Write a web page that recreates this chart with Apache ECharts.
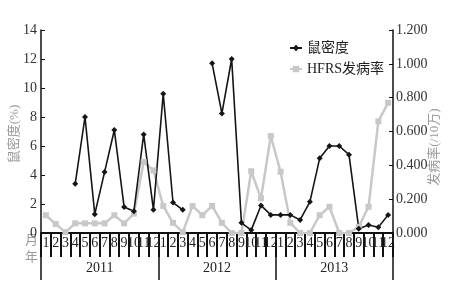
<!DOCTYPE html>
<html>
<head>
<meta charset="utf-8">
<script src="https://cdn.jsdelivr.net/npm/echarts@6/dist/echarts.min.js"></script>
<style>
  html, body { margin: 0; padding: 0; background: #fff; }
  #main { width: 449px; height: 293px; }
</style>
</head>
<body>
<div id="main"></div>
<script>
// months for 2011-2013
const months = [];
for (let y = 0; y < 3; y++) for (let m = 1; m <= 12; m++) months.push(String(m));
const years = ["2011", "2012", "2013"];

// 鼠密度 (%)
const ratDensity = [
  null, null, null, 3.4, 8.0, 1.3, 4.2, 7.1, 1.8, 1.5, 6.8, 1.6,
  9.6, 2.1, 1.6, null, null, 11.7, 8.25, 12.0, 0.7, 0.2, 1.9, 1.25,
  1.25, 1.25, 0.9, 2.15, 5.15, 6.0, 6.0, 5.4, 0.3, 0.55, 0.4, 1.25
];
// HFRS发病率 (/10万)
const hfrsRate = [
  0.105, 0.053, 0.005, 0.057, 0.057, 0.057, 0.057, 0.105, 0.057, 0.115, 0.42, 0.37,
  0.16, 0.06, 0.005, 0.16, 0.105, 0.16, 0.06, 0.0, 0.0, 0.365, 0.205, 0.573,
  0.362, 0.06, 0.0, 0.0, 0.105, 0.155, 0.0, 0.0, 0.037, 0.155, 0.66, 0.77
];

const serif = "Liberation Serif, Noto Sans CJK SC, serif";
const nameStyle = { font: "13px " + serif, fill: "#999", align: "center", verticalAlign: "middle" };
const chart = echarts.init(document.getElementById("main"));
chart.setOption({
  animation: false,
  grid: { left: 41, right: 56, top: 30, bottom: 60, outerBoundsMode: "none", containLabel: false },
  legend: {
    orient: "vertical",
    left: 284,
    top: 36,
    itemGap: 7,
    itemWidth: 12,
    itemHeight: 8,
    textStyle: { fontFamily: serif, fontSize: 14, color: "#222" },
    data: ["鼠密度", "HFRS发病率"]
  },
  xAxis: [
    {
      type: "category",
      data: months,
      axisLine: { lineStyle: { color: "#111", width: 2 } },
      axisTick: { show: true, interval: 0, length: 24, lineStyle: { color: "#111", width: 2 } },
      axisLabel: { interval: 0, margin: 3, fontFamily: serif, fontSize: 14, color: "#222" }
    },
    {
      type: "category",
      data: years,
      position: "bottom",
      axisLine: { show: false },
      axisTick: { show: true, interval: 0, length: 47, lineStyle: { color: "#111", width: 1.5 } },
      axisLabel: { interval: 0, margin: 28, fontFamily: serif, fontSize: 14, color: "#222" }
    }
  ],
  yAxis: [
    {
      type: "value",
      min: 0, max: 14, interval: 2,
      splitLine: { show: false },
      axisLine: { show: true, lineStyle: { color: "#111", width: 1.5 } },
      axisTick: { show: true, inside: true, length: 4, lineStyle: { color: "#111" } },
      axisLabel: { margin: 4, fontFamily: serif, fontSize: 14, color: "#333" }
    },
    {
      type: "value",
      min: 0, max: 1.2, interval: 0.2,
      splitLine: { show: false },
      axisLine: { show: true, lineStyle: { color: "#111", width: 1.5 } },
      axisTick: { show: true, inside: true, length: 4, lineStyle: { color: "#111" } },
      axisLabel: { margin: 3, fontFamily: serif, fontSize: 14, color: "#333",
        formatter: v => v.toFixed(3) }
    }
  ],
  graphic: [
    // axis names
    { type: "text", x: 15, y: 134, rotation: Math.PI / 2, style: Object.assign({ text: "鼠密度(%)" }, nameStyle) },
    { type: "text", x: 435, y: 147, rotation: Math.PI / 2, style: Object.assign({ text: "发病率(/10万)" }, nameStyle) },
    { type: "text", left: 25, top: 234, style: { text: "月", font: "13px " + serif, fill: "#999" } },
    { type: "text", left: 25, top: 251, style: { text: "年", font: "13px " + serif, fill: "#999" } }
  ],
  series: [
    {
      name: "HFRS发病率",
      type: "line",
      yAxisIndex: 1,
      data: hfrsRate,
      symbol: "rect",
      symbolSize: 6,
      itemStyle: { color: "#c8c8c8" },
      lineStyle: { color: "#c8c8c8", width: 2.5 }
    },
    {
      name: "鼠密度",
      type: "line",
      yAxisIndex: 0,
      data: ratDensity,
      symbol: "diamond",
      symbolSize: 6,
      itemStyle: { color: "#151515" },
      lineStyle: { color: "#151515", width: 1.6 }
    }
  ]
});
</script>
</body>
</html>
